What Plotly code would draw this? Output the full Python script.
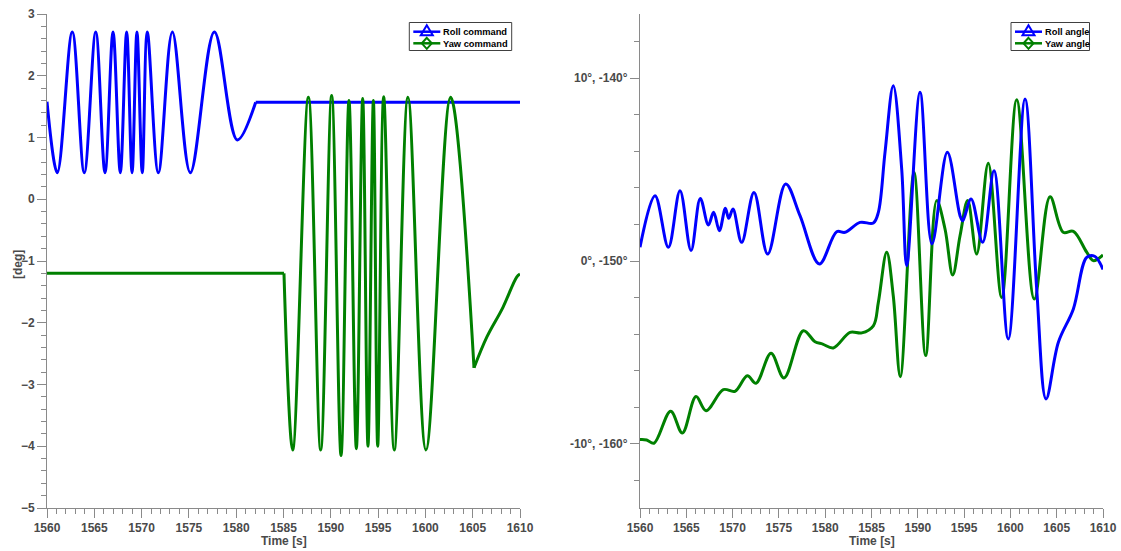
import plotly.graph_objects as go

# ---- Left panel: commands [deg] ----
roll_cmd_t = [1560.0, 1561.09, 1562.67, 1563.94, 1565.15, 1566.13, 1566.98, 1567.75,
              1568.42, 1568.99, 1569.51, 1570.07, 1570.60, 1571.77, 1573.25, 1575.15,
              1577.69, 1580.12, 1582.06]
roll_cmd_v = [1.58, 0.43, 2.71, 0.43, 2.71, 0.43, 2.71, 0.43,
              2.71, 0.43, 2.71, 0.43, 2.71, 0.43, 2.71, 0.43,
              2.71, 0.96, 1.57]
roll_hold_t = [1582.06, 1610.0]
roll_hold_v = [1.57, 1.57]

yaw_hold_t = [1560.0, 1585.05]
yaw_hold_v = [-1.20, -1.20]
yaw_cmd_t = [1585.05, 1585.97, 1587.63, 1588.93, 1590.09, 1591.08, 1591.92, 1592.70,
             1593.37, 1593.93, 1594.50, 1594.96, 1595.59, 1596.71, 1598.16, 1600.06,
             1602.67, 1605.14]
yaw_cmd_v = [-1.20, -4.06, 1.65, -4.06, 1.68, -4.15, 1.60, -4.04,
             1.63, -4.00, 1.60, -4.00, 1.66, -4.06, 1.65, -4.06,
             1.65, -2.73]
yaw_tail_t = [1605.14, 1606.5, 1608.2, 1609.65, 1610.0]
yaw_tail_v = [-2.73, -2.23, -1.75, -1.26, -1.21]

# ---- Right panel: measured angles ----
roll_t = [1560.0, 1561.62, 1563.06, 1564.32, 1565.51, 1566.51, 1567.38, 1567.95,
          1568.57, 1569.22, 1569.58, 1570.04, 1570.98, 1572.31, 1573.79, 1575.73,
          1577.28, 1579.37, 1581.24, 1582.14, 1583.76, 1585.2, 1585.74, 1586.46,
          1587.35, 1588.26, 1588.8, 1590.24, 1591.53, 1593.19, 1594.56, 1594.85,
          1595.75, 1597.0, 1598.23, 1599.77, 1601.58, 1602.84, 1603.85, 1605.18,
          1606.8, 1608.24, 1609.1, 1610.0]
roll_deg = [0.75, 3.57, 0.75, 3.84, 0.57, 3.42, 1.97, 2.66,
            1.66, 2.88, 2.33, 2.84, 1.02, 3.75, 0.38, 4.21,
            2.48, -0.16, 1.60, 1.57, 2.11, 2.08, 2.66, 5.94,
            9.58, 5.03, -0.26, 9.22, 0.93, 5.94, 2.48, 2.20,
            3.39, 1.02, 4.93, -4.26, 8.85, -1.53, -7.54, -4.44,
            -2.62, 0.20, 0.26, -0.46]

yaw_t = [1560.0, 1560.72, 1561.51, 1563.31, 1564.57, 1566.05, 1567.13, 1569.0,
         1570.26, 1571.59, 1572.53, 1574.15, 1575.55, 1577.64, 1578.9, 1579.73,
         1580.88, 1582.68, 1583.94, 1585.2, 1585.74, 1586.64, 1587.35, 1588.11,
         1589.59, 1590.85, 1592.04, 1592.94, 1593.77, 1594.56, 1595.39, 1596.36,
         1597.61, 1599.06, 1600.68, 1602.58, 1604.28, 1605.71, 1606.8, 1608.24,
         1608.95, 1610.0]
yaw_deg = [-159.76, -159.78, -159.96, -158.21, -159.40, -157.41, -158.18, -157.03,
           -157.12, -156.27, -156.68, -155.04, -156.39, -153.81, -154.41, -154.54,
           -154.75, -153.90, -153.93, -153.54, -152.26, -149.52, -151.90, -156.32,
           -145.15, -155.17, -146.70, -148.25, -150.77, -148.62, -146.70, -149.62,
           -144.66, -151.99, -141.19, -152.08, -146.49, -148.43, -148.38, -149.52,
           -149.98, -149.67]
yaw_offset = 150.0  # yaw shares the axis shifted by +150 deg

angle_ticks = [-10, 0, 10]
angle_ticktext = ["-10°, -160°", "0°, -150°", "10°, -140°"]

left_legend = ["Roll command", "Yaw command"]
right_legend = ["Roll angle", "Yaw angle"]

BLUE = "#0000FF"
GREEN = "#008000"
LW = 3
W, H = 1121, 551

fig = go.Figure()


def add_curve(t, v, color, xa, ya, shape="spline"):
    fig.add_trace(go.Scatter(
        x=t, y=v, mode="lines", xaxis=xa, yaxis=ya, showlegend=False,
        line=dict(color=color, width=LW, shape=shape, smoothing=1.0),
        hoverinfo="skip"))


# left panel curves
add_curve(roll_cmd_t, roll_cmd_v, BLUE, "x", "y")
add_curve(roll_hold_t, roll_hold_v, BLUE, "x", "y", "linear")
add_curve(yaw_hold_t, yaw_hold_v, GREEN, "x", "y", "linear")
add_curve(yaw_cmd_t, yaw_cmd_v, GREEN, "x", "y")
add_curve(yaw_tail_t, yaw_tail_v, GREEN, "x", "y")

# right panel curves
add_curve(yaw_t, [d + yaw_offset for d in yaw_deg], GREEN, "x2", "y2")
add_curve(roll_t, roll_deg, BLUE, "x2", "y2")


# ---- compact boxed legends (pixel layout converted to paper coords) ----
def px(x):
    return x / W


def py(y):
    return 1 - y / H


FONT = "Liberation Sans, Arial, sans-serif"
shapes = []
annotations = []


def draw_legend(box_l, box_r, labels):
    box_t, box_b = 22.5, 50.5
    shapes.append(dict(type="rect", xref="paper", yref="paper",
                       x0=px(box_l), x1=px(box_r), y0=py(box_b), y1=py(box_t),
                       line=dict(color="#404040", width=1), fillcolor="white",
                       layer="above"))
    rows = [(31.7, BLUE, "tri"), (43.3, GREEN, "dia")]
    l0, l1 = box_l + 4, box_l + 31
    cx = (l0 + l1) / 2
    for (ry, col, kind), lab in zip(rows, labels):
        shapes.append(dict(type="line", xref="paper", yref="paper",
                           x0=px(l0), x1=px(l1), y0=py(ry), y1=py(ry),
                           line=dict(color=col, width=2.5), layer="above"))
        if kind == "tri":
            pts = [(cx, ry - 6.5), (cx + 6, ry + 3.5), (cx - 6, ry + 3.5)]
        else:
            pts = [(cx, ry - 5.5), (cx + 5, ry), (cx, ry + 5.5), (cx - 5, ry)]
        path = "M " + " L ".join(f"{px(a):.5f},{py(b):.5f}" for a, b in pts) + " Z"
        shapes.append(dict(type="path", xref="paper", yref="paper", path=path,
                           line=dict(color=col, width=2), fillcolor="rgba(0,0,0,0)",
                           layer="above"))
        annotations.append(dict(
            text=lab, xref="paper", yref="paper", x=px(l1 + 0.5), y=py(ry + 0.5),
            xanchor="left", yanchor="middle", showarrow=False,
            font=dict(family=FONT, size=9.3, color="black", weight="bold")))


draw_legend(409.3, 511.7, left_legend)
draw_legend(1011, 1089.5, right_legend)

tick_font = dict(family=FONT, size=12, color="#4a4a4a", weight="bold")
AX = "#8a8a8a"

# axis titles placed as text
annotations.append(dict(text="Time [s]", xref="paper", yref="paper",
                        x=px((47 + 520) / 2), y=py(541), xanchor="center",
                        yanchor="middle", showarrow=False, font=tick_font))
annotations.append(dict(text="Time [s]", xref="paper", yref="paper",
                        x=px((640 + 1103) / 2), y=py(541), xanchor="center",
                        yanchor="middle", showarrow=False, font=tick_font))
annotations.append(dict(text="[deg]", xref="paper", yref="paper",
                        x=px(18), y=py(265), xanchor="center", yanchor="middle",
                        textangle=-90, showarrow=False, font=tick_font))

common_x = dict(
    range=[1560, 1610], dtick=5, tick0=1560, showgrid=False, zeroline=False,
    showline=True, linecolor=AX, linewidth=1, ticks="outside", ticklen=9,
    tickcolor=AX, tickfont=tick_font, automargin=False, ticklabelstandoff=0,
    minor=dict(dtick=1, ticks="outside", ticklen=5, tickcolor=AX, showgrid=False),
)
common_y = dict(
    showgrid=False, zeroline=False, showline=True, linecolor=AX, linewidth=1,
    ticks="outside", ticklen=9, tickcolor=AX, tickfont=tick_font, automargin=False,
)

y_dom = [1 - 508 / H, 1 - 14 / H]

fig.update_layout(
    width=W, height=H, margin=dict(l=0, r=0, t=0, b=0),
    paper_bgcolor="white", plot_bgcolor="white", showlegend=False,
    xaxis=dict(common_x, domain=[47 / W, 520 / W], anchor="y"),
    yaxis=dict(common_y, domain=y_dom, anchor="x", range=[-5, 3], dtick=1,
               minor=dict(dtick=0.2, ticks="outside", ticklen=5, tickcolor=AX,
                          showgrid=False)),
    xaxis2=dict(common_x, domain=[640 / W, 1103 / W], anchor="y2"),
    yaxis2=dict(common_y, domain=y_dom, anchor="x2", range=[-13.5, 13.5],
                tickmode="array", tickvals=angle_ticks, ticktext=angle_ticktext,
                minor=dict(tickmode="linear", tick0=0, dtick=2, ticks="outside",
                           ticklen=5, tickcolor=AX, showgrid=False)),
    shapes=shapes,
    annotations=annotations,
)

fig.write_html("out.html")
